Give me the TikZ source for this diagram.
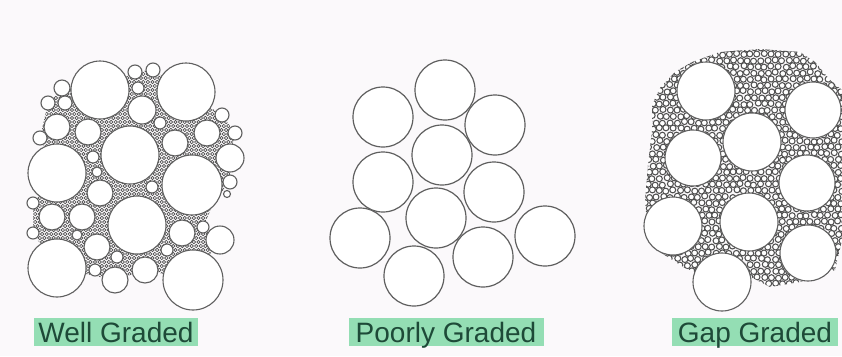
\documentclass[tikz,border=0pt]{standalone}
\usepackage{fontspec}
\setmainfont{Liberation Sans}
\definecolor{bg}{RGB}{251,249,251}
\definecolor{ln}{RGB}{95,95,95}
\definecolor{dk}{RGB}{80,80,80}
\definecolor{hl}{RGB}{148,222,180}
\definecolor{tx}{RGB}{30,74,56}
\begin{document}
\begin{tikzpicture}[x=1pt,y=-1pt,
  grain/.style={draw=ln, line width=1.1pt, fill=white},
  tinygrain/.style={draw=dk, line width=0.7pt},
  pebble/.style={draw=dk, line width=1.05pt, fill=white},
  tag/.style={fill=hl, text=tx, inner xsep=0pt, inner ysep=0pt, text height=20pt, text depth=0pt,
    minimum height=28pt, font=\fontsize{28}{28}\selectfont}]
\fill[bg] (0,0) rectangle (842,356);
\useasboundingbox (0,0) rectangle (842,356);

% ---------------- Well graded ----------------
\begin{scope}
\clip (100,90) -- (135,72) -- (153,70) -- (186,92) -- (222,115) -- (235,133) -- (230,158)
  -- (230,182) -- (215,200) -- (203,227) -- (220,240) -- (193,280) -- (145,270) -- (115,280)
  -- (57,268) -- (33,233) -- (33,203) -- (57,173) -- (40,138) -- (48,103) -- (62,88) -- cycle;
\foreach \j in {0,...,62} {
  \foreach \i in {0,...,48} {
    \pgfmathsetmacro\xx{26+\i*4.6+mod(\j,2)*2.3}
    \pgfmathsetmacro\yy{62+\j*4.0}
    \draw[tinygrain] (\xx,\yy) circle[radius=1.7];
  }
}
\end{scope}
\foreach \x/\y/\r in {
  100/90/29, 186/92/29, 130/155/29, 57/173/29, 192/185/30, 137/225/29, 57/268/29, 193/280/30,
  142/110/14, 57/127/13, 88/132/13, 175/143/13, 207/133/13, 230/158/14, 100/193/13, 52/217/13,
  82/217/13, 182/233/13, 220/240/14, 97/247/13, 145/270/13, 115/280/13,
  135/72/7, 153/70/7, 138/88/6, 62/88/8, 48/103/7, 65/103/7, 40/138/7, 160/123/6, 222/115/7,
  235/133/7, 93/157/6, 97/172/5, 230/182/7, 227/194/3.5, 33/203/6, 152/187/6, 33/233/6,
  203/227/6, 117/257/6, 95/270/6, 167/250/6, 77/235/5}
  \draw[grain] (\x,\y) circle[radius=\r];

% ---------------- Poorly graded ----------------
\foreach \x/\y in {445/90, 383/117, 495/125, 442/155, 383/182, 494/192, 436/218, 360/238,
  545/236, 414/276, 483/257}
  \draw[grain, line width=1.2pt] (\x,\y) circle[radius=30];

% ---------------- Gap graded ----------------
\begin{scope}
\clip (660,88) -- (675,72) -- (692,62) -- (720,52) -- (760,49) -- (800,52) -- (815,62)
  -- (830,80) -- (842,90) -- (842,240) -- (835,270) -- (800,282) -- (770,287) -- (745,274)
  -- (705,276) -- (685,268) -- (660,252) -- (648,235) -- (645,200) -- (648,165)
  -- (652,130) -- (652,105) -- cycle;
\pgfmathsetseed{7}
\foreach \j in {0,...,38} {
  \foreach \i in {0,...,29} {
    \pgfmathsetmacro\xx{642+\i*7.0+mod(\j,2)*3.5+rand*0.9}
    \pgfmathsetmacro\yy{48+\j*6.2+rand*0.9}
    \draw[pebble] (\xx,\yy) circle[radius=3.0];
  }
}
\end{scope}
\foreach \x/\y/\r in {706/91/29, 813/110/28, 752/142/29, 693/158/28, 807/183/28,
  673/226/29, 749/222/29, 808/253/28, 722/282/29}
  \draw[grain] (\x,\y) circle[radius=\r];

% ---------------- Labels ----------------
\node[tag, minimum width=164pt] (well) at (116,332) {Well Graded};
\node[tag, minimum width=195pt] (poor) at (446,332) {Poorly Graded};
\node[tag, minimum width=166pt] (gap) at (755,332) {Gap Graded};
\end{tikzpicture}
\end{document}
